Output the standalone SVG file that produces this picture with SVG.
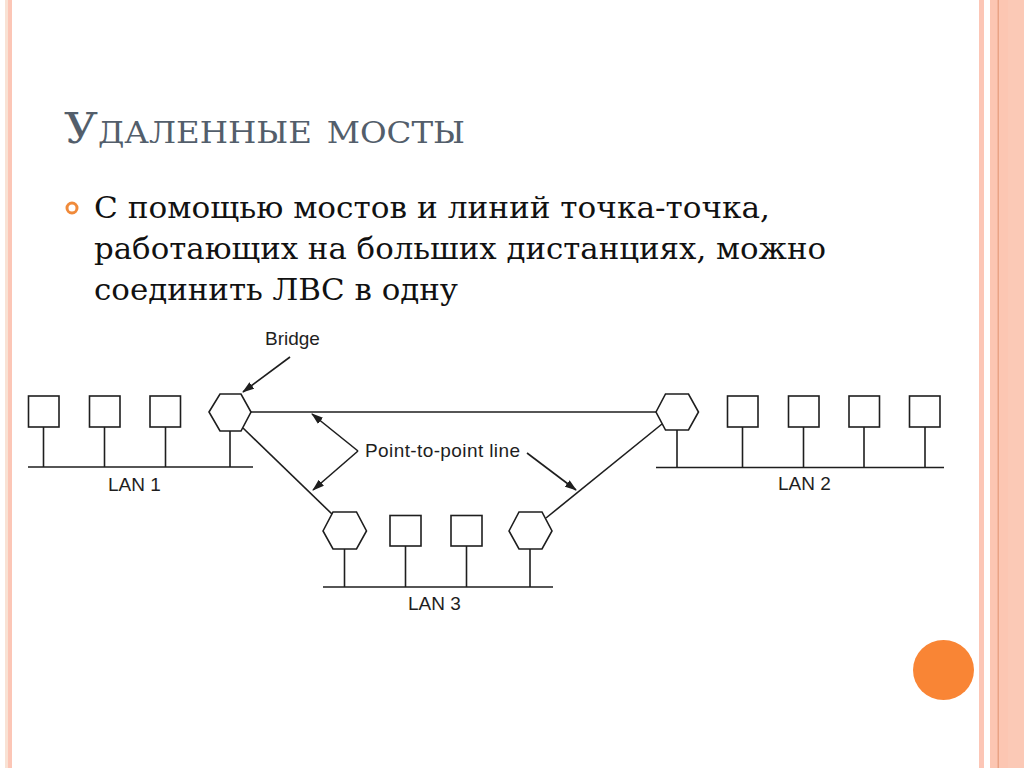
<svg xmlns="http://www.w3.org/2000/svg" width="1024" height="768" viewBox="0 0 1024 768">
<defs>
<style>
.ln{stroke:#1e1e1e;stroke-width:1.6;fill:none}
.nd{stroke:#1e1e1e;stroke-width:1.6;fill:#fff}
.lb{font-family:"Liberation Sans",Arial,sans-serif;font-size:19px;fill:#1e1e1e}
</style>
<marker id="ah" viewBox="0 0 12 8" refX="11" refY="4" markerWidth="12" markerHeight="8" markerUnits="userSpaceOnUse" orient="auto">
<path d="M0,0 L12,4 L0,8 z" fill="#1e1e1e"/>
</marker>
</defs>
<rect x="0" y="0" width="1024" height="768" fill="#fff"/>
<!-- borders -->
<rect x="5" y="0" width="3" height="768" fill="#f9e2d4"/>
<rect x="8" y="0" width="4" height="768" fill="#fcc6b6"/>
<rect x="979" y="0" width="5" height="768" fill="#fcc6b6"/>
<rect x="990" y="0" width="34" height="768" fill="#fcc6b2"/>
<rect x="997.5" y="0" width="1.5" height="768" fill="#e9a385"/>
<rect x="1008" y="0" width="16" height="768" fill="#fbc9b6"/>
<ellipse cx="943.5" cy="670" rx="30.5" ry="30" fill="#f98535"/>
<!-- title -->
<text x="64" y="143" font-family="'DejaVu Serif','Liberation Serif',serif" font-size="42" font-variant="small-caps" fill="#535e6b" textLength="401" lengthAdjust="spacingAndGlyphs">Удаленные мосты</text>
<!-- bullet -->
<circle cx="72" cy="208" r="5" fill="none" stroke="#f08a3a" stroke-width="3"/>
<g font-family="'DejaVu Serif','Liberation Serif',serif" font-size="30" fill="#111">
<text x="94" y="218" textLength="676" lengthAdjust="spacingAndGlyphs">С помощью мостов и линий точка-точка,</text>
<text x="94" y="259" textLength="732" lengthAdjust="spacingAndGlyphs">работающих на больших дистанциях, можно</text>
<text x="94" y="300" textLength="364" lengthAdjust="spacingAndGlyphs">соединить ЛВС в одну</text>
</g>
<!-- connectors -->
<g id="connectors">
<line class="ln" x1="28" y1="467" x2="253" y2="467"/>
<line class="ln" x1="43.5" y1="427" x2="43.5" y2="467"/>
<line class="ln" x1="104.5" y1="427" x2="104.5" y2="467"/>
<line class="ln" x1="165.5" y1="427" x2="165.5" y2="467"/>
<line class="ln" x1="230" y1="431" x2="230" y2="467"/>
<line class="ln" x1="656" y1="467.5" x2="944" y2="467.5"/>
<line class="ln" x1="677" y1="430" x2="677" y2="467.5"/>
<line class="ln" x1="742.5" y1="427" x2="742.5" y2="467.5"/>
<line class="ln" x1="803.5" y1="427" x2="803.5" y2="467.5"/>
<line class="ln" x1="864" y1="427" x2="864" y2="467.5"/>
<line class="ln" x1="925" y1="427" x2="925" y2="467.5"/>
<line class="ln" x1="323" y1="587" x2="553" y2="587"/>
<line class="ln" x1="344.5" y1="549" x2="344.5" y2="587"/>
<line class="ln" x1="405.5" y1="546" x2="405.5" y2="587"/>
<line class="ln" x1="466.5" y1="546" x2="466.5" y2="587"/>
<line class="ln" x1="530" y1="549" x2="530" y2="587"/>
<line class="ln" x1="251" y1="412" x2="656" y2="412"/>
<line class="ln" x1="243" y1="428" x2="333" y2="515"/>
<line class="ln" x1="662" y1="424" x2="546" y2="518"/>
<line class="ln" x1="290" y1="357" x2="243" y2="392" marker-end="url(#ah)"/>
<line class="ln" x1="358" y1="451" x2="312" y2="414" marker-end="url(#ah)"/>
<line class="ln" x1="358" y1="451" x2="313" y2="490" marker-end="url(#ah)"/>
<line class="ln" x1="527" y1="453" x2="576" y2="490" marker-end="url(#ah)"/>
</g>
<!-- LAN 1 nodes -->
<g id="lan1-host1"><rect class="nd" x="28.5" y="396" width="30.5" height="31"/></g>
<g id="lan1-host2"><rect class="nd" x="89.5" y="396" width="30.5" height="31"/></g>
<g id="lan1-host3"><rect class="nd" x="150" y="396" width="30.5" height="31"/></g>
<g id="bridge1"><polygon class="nd" points="209,412 220,394 241,394 251,412 241,431 220,431"/></g>
<!-- LAN 2 nodes -->
<g id="bridge2"><polygon class="nd" points="656,412 665.5,394 688.5,394 698.5,412 688.5,430 665.5,430"/></g>
<g id="lan2-host1"><rect class="nd" x="727.5" y="396" width="30.5" height="31"/></g>
<g id="lan2-host2"><rect class="nd" x="788.5" y="396" width="30.5" height="31"/></g>
<g id="lan2-host3"><rect class="nd" x="849" y="396" width="30.5" height="31"/></g>
<g id="lan2-host4"><rect class="nd" x="909.5" y="396" width="30.5" height="31"/></g>
<!-- LAN 3 nodes -->
<g id="bridge3"><polygon class="nd" points="323,531 333,512 356.5,512 366.5,531 356.5,549 333,549"/></g>
<g id="lan3-host1"><rect class="nd" x="390" y="515.5" width="31" height="30.5"/></g>
<g id="lan3-host2"><rect class="nd" x="451" y="515.5" width="31" height="30.5"/></g>
<g id="bridge4"><polygon class="nd" points="509,531 519,512 542,512 552,531 542,549 519,549"/></g>
<!-- labels -->
<text class="lb" x="265" y="345">Bridge</text>
<text class="lb" x="365" y="457" textLength="155">Point-to-point line</text>
<text class="lb" x="108" y="491">LAN 1</text>
<text class="lb" x="778" y="490">LAN 2</text>
<text class="lb" x="408" y="610">LAN 3</text>
</svg>
